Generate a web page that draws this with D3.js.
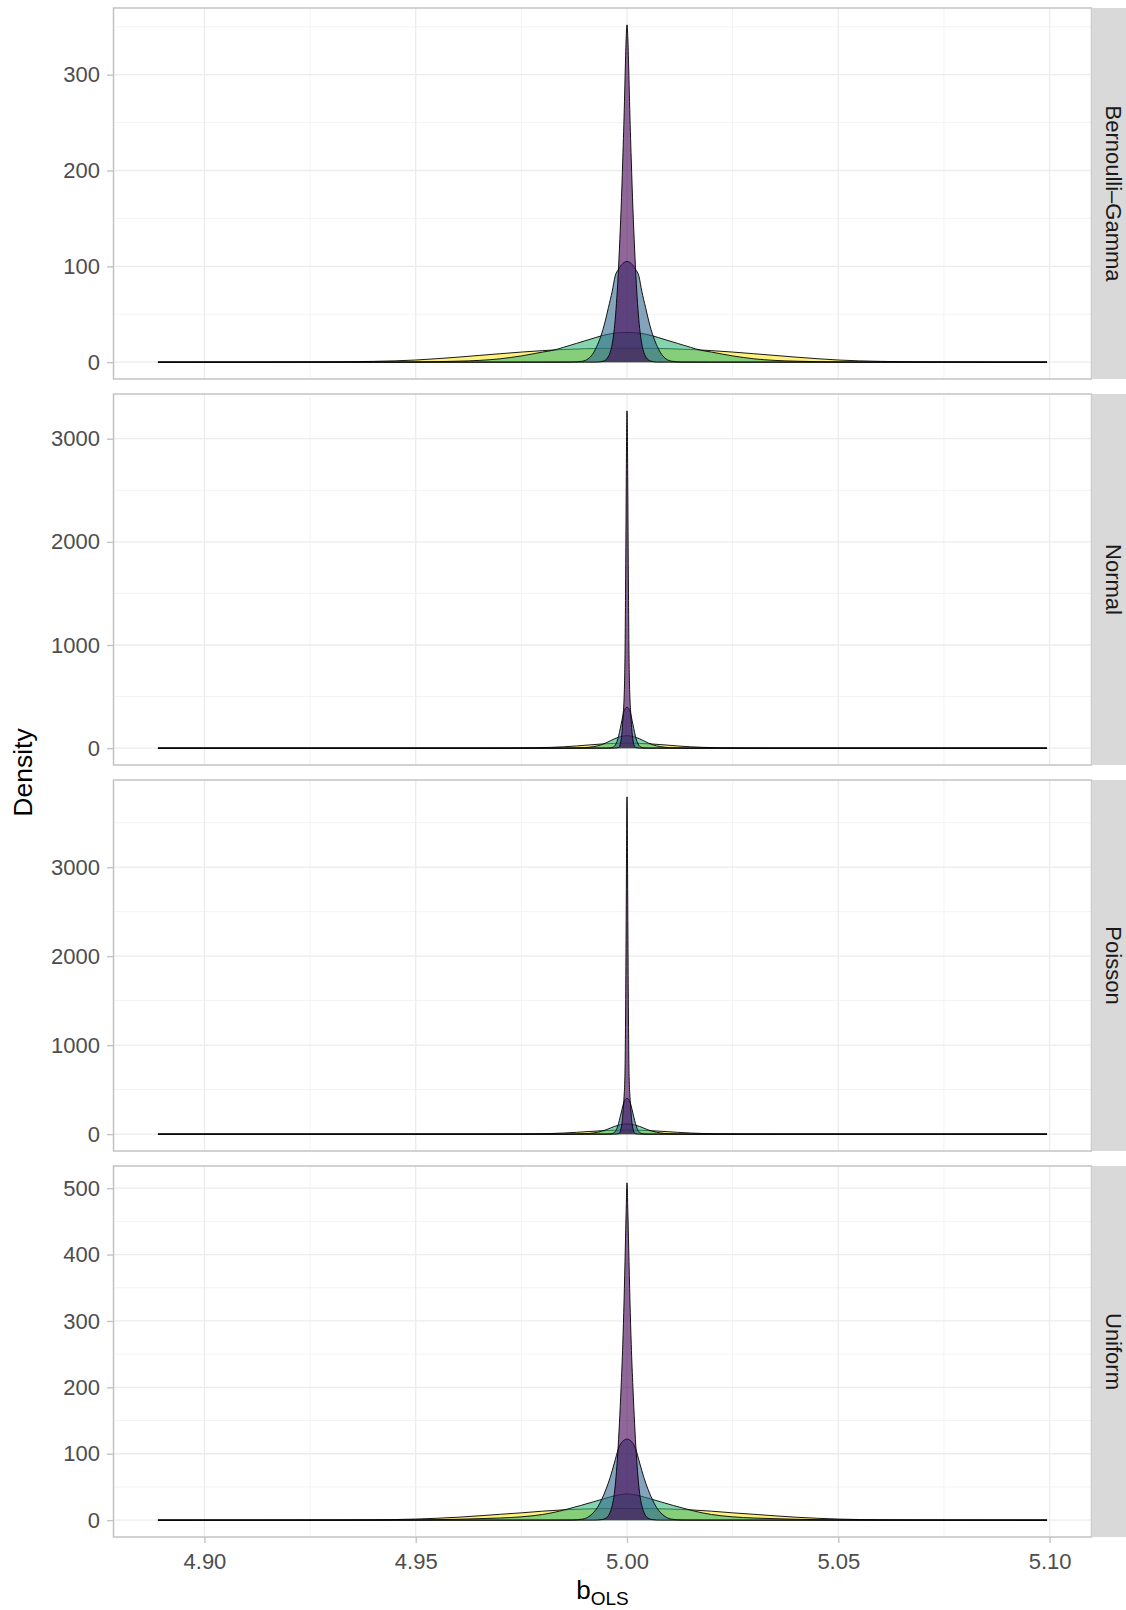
<!DOCTYPE html>
<html>
<head>
<meta charset="utf-8">
<script src="https://cdn.jsdelivr.net/npm/d3@7"></script>
<style>
  body { margin: 0; background: white; }
  text { font-family: "Liberation Sans", Arial, Helvetica, sans-serif; }
</style>
</head>
<body>
<div id="chart"></div>
<script>

// facet labels, top to bottom
var panelNames = ["Bernoulli\u2013Gamma", "Normal", "Poisson", "Uniform"];
// fills, drawn in this order (widest curve first)
var seriesColors = ["#FDE725", "#35B779", "#31688E", "#440154"];

// tick labels
var xTicks = [4.90, 4.95, 5.00, 5.05, 5.10];
var bgTicks = [0, 100, 200, 300];
var normalTicks = [0, 1000, 2000, 3000];
var poissonTicks = [0, 1000, 2000, 3000];
var uniformTicks = [0, 100, 200, 300, 400, 500];

// density curves, [b_OLS, density]
var bgYellow = [[4.889, 0], [4.91, 0.05], [4.93, 0.3], [4.94, 0.8], [4.95, 2.2], [4.955, 3.6], [4.96, 5.2], [4.965, 7.0], [4.97, 8.8], [4.975, 10.5], [4.98, 12.0], [4.985, 13.2], [4.99, 14.0], [4.995, 14.4], [5.0, 14.5], [5.005, 14.4], [5.01, 14.0], [5.015, 13.2], [5.02, 12.0], [5.025, 10.5], [5.03, 8.8], [5.035, 7.0], [5.04, 5.2], [5.045, 3.6], [5.05, 2.2], [5.06, 0.8], [5.07, 0.3], [5.09, 0.05], [5.0994, 0]];
var bgGreen = [[4.889, 0], [4.94, 0.05], [4.95, 0.2], [4.955, 0.5], [4.96, 1.0], [4.965, 1.8], [4.97, 3.5], [4.975, 6.5], [4.98, 10.5], [4.9826, 12.5], [4.985, 15.5], [4.988, 19.5], [4.991, 23.5], [4.994, 27.5], [4.997, 30.2], [5.0, 31.0], [5.003, 30.2], [5.006, 27.5], [5.009, 23.5], [5.012, 19.5], [5.015, 15.5], [5.0174, 12.5], [5.02, 10.5], [5.025, 6.5], [5.03, 3.5], [5.035, 1.8], [5.04, 1.0], [5.045, 0.5], [5.05, 0.2], [5.06, 0.05], [5.0994, 0]];
var bgBlue = [[4.889, 0], [4.98, 0], [4.987, 0.1], [4.9895, 1.0], [4.9908, 3.5], [4.9918, 8], [4.9928, 16], [4.9938, 27], [4.9948, 42], [4.9956, 57], [4.9965, 74], [4.9972, 90], [4.998, 97], [4.999, 103], [5.0, 105], [5.001, 103], [5.002, 97], [5.0028, 90], [5.0035, 74], [5.0044, 57], [5.0052, 42], [5.0062, 27], [5.0072, 16], [5.0082, 8], [5.0092, 3.5], [5.0105, 1.0], [5.013, 0.1], [5.02, 0], [5.0994, 0]];
var bgPurple = [[4.889, 0], [4.99, 0], [4.993, 0.1], [4.9945, 1.2], [4.9953, 4], [4.996, 10], [4.9965, 19], [4.997, 35], [4.9974, 55], [4.9978, 82], [4.9982, 118], [4.9986, 160], [4.999, 212], [4.9994, 272], [4.9996, 308], [4.9998, 338], [5.0, 352], [5.0002, 338], [5.0004, 308], [5.0006, 272], [5.001, 212], [5.0014, 160], [5.0018, 118], [5.0022, 82], [5.0026, 55], [5.003, 35], [5.0035, 19], [5.004, 10], [5.0047, 4], [5.0055, 1.2], [5.007, 0.1], [5.01, 0], [5.0994, 0]];

var nYellow = [[4.889, 0], [4.95, 0], [4.965, 0.3], [4.973, 1.2], [4.978, 3.5], [4.982, 7.5], [4.985, 13], [4.988, 21], [4.991, 31], [4.994, 40], [4.997, 46], [5.0, 48], [5.003, 46], [5.006, 40], [5.009, 31], [5.012, 21], [5.015, 13], [5.018, 7.5], [5.022, 3.5], [5.027, 1.2], [5.035, 0.3], [5.05, 0], [5.0994, 0]];
var nGreen = [[4.889, 0], [4.98, 0], [4.985, 0.3], [4.988, 1.5], [4.99, 5], [4.992, 14], [4.993, 22], [4.994, 34], [4.995, 50], [4.996, 70], [4.997, 90], [4.998, 106], [4.999, 116], [5.0, 120], [5.001, 116], [5.002, 106], [5.003, 90], [5.004, 70], [5.005, 50], [5.006, 34], [5.007, 22], [5.008, 14], [5.01, 5], [5.012, 1.5], [5.015, 0.3], [5.02, 0], [5.0994, 0]];
var nBlue = [[4.889, 0], [4.993, 0], [4.995, 0.5], [4.996, 2], [4.9965, 6], [4.997, 18], [4.9975, 50], [4.998, 115], [4.9984, 190], [4.9988, 270], [4.9992, 345], [4.9996, 385], [5.0, 397], [5.0004, 385], [5.0008, 345], [5.0012, 270], [5.0016, 190], [5.002, 115], [5.0025, 50], [5.003, 18], [5.0035, 6], [5.004, 2], [5.005, 0.5], [5.007, 0], [5.0994, 0]];
var nPurple = [[4.889, 0], [4.995, 0], [4.997, 0.5], [4.998, 6], [4.9983, 25], [4.9986, 80], [4.9989, 200], [4.9991, 330], [4.9993, 480], [4.99945, 700], [4.99955, 1000], [4.99965, 1500], [4.99975, 2100], [4.99984, 2700], [4.99992, 3100], [5.0, 3270], [5.00008, 3100], [5.00016, 2700], [5.00025, 2100], [5.00035, 1500], [5.00045, 1000], [5.00055, 700], [5.0007, 480], [5.0009, 330], [5.0011, 200], [5.0014, 80], [5.0017, 25], [5.002, 6], [5.003, 0.5], [5.005, 0], [5.0994, 0]];

var pYellow = [[4.889, 0], [4.95, 0], [4.965, 0.3], [4.973, 1.1], [4.978, 3.2], [4.982, 7], [4.985, 12.5], [4.988, 20], [4.991, 29.5], [4.994, 38], [4.997, 44], [5.0, 46], [5.003, 44], [5.006, 38], [5.009, 29.5], [5.012, 20], [5.015, 12.5], [5.018, 7], [5.022, 3.2], [5.027, 1.1], [5.035, 0.3], [5.05, 0], [5.0994, 0]];
var pGreen = [[4.889, 0], [4.98, 0], [4.985, 0.3], [4.988, 1.4], [4.99, 4.5], [4.992, 13], [4.993, 21], [4.994, 33], [4.995, 48], [4.996, 67], [4.997, 86], [4.998, 101], [4.999, 111], [5.0, 115], [5.001, 111], [5.002, 101], [5.003, 86], [5.004, 67], [5.005, 48], [5.006, 33], [5.007, 21], [5.008, 13], [5.01, 4.5], [5.012, 1.4], [5.015, 0.3], [5.02, 0], [5.0994, 0]];
var pBlue = [[4.889, 0], [4.993, 0], [4.995, 0.3], [4.996, 2], [4.9965, 6], [4.997, 19], [4.9975, 52], [4.998, 120], [4.9984, 195], [4.9988, 275], [4.9992, 350], [4.9996, 390], [5.0, 403], [5.0004, 390], [5.0008, 350], [5.0012, 275], [5.0016, 195], [5.002, 120], [5.0025, 52], [5.003, 19], [5.0035, 6], [5.004, 2], [5.005, 0.3], [5.007, 0], [5.0994, 0]];
var pPurple = [[4.889, 0], [4.995, 0], [4.997, 0.4], [4.998, 5], [4.9983, 20], [4.9986, 65], [4.9989, 160], [4.9991, 280], [4.9993, 420], [4.9995, 650], [4.9996, 1000], [4.9997, 1600], [4.9998, 2400], [4.99988, 3100], [4.99994, 3600], [5.0, 3790], [5.00006, 3600], [5.00012, 3100], [5.0002, 2400], [5.0003, 1600], [5.0004, 1000], [5.0005, 650], [5.0007, 420], [5.0009, 280], [5.0011, 160], [5.0014, 65], [5.0017, 20], [5.002, 5], [5.003, 0.4], [5.005, 0], [5.0994, 0]];

var unYellow = [[4.889, 0], [4.91, 0.05], [4.93, 0.2], [4.94, 0.5], [4.95, 1.6], [4.955, 2.8], [4.96, 4.4], [4.965, 6.5], [4.97, 8.8], [4.975, 11], [4.98, 13.5], [4.985, 15.5], [4.99, 16.8], [4.995, 17.4], [5.0, 17.6], [5.005, 17.4], [5.01, 16.8], [5.015, 15.5], [5.02, 13.5], [5.025, 11], [5.03, 8.8], [5.035, 6.5], [5.04, 4.4], [5.045, 2.8], [5.05, 1.6], [5.06, 0.5], [5.07, 0.2], [5.09, 0.05], [5.0994, 0]];
var unGreen = [[4.889, 0], [4.94, 0.05], [4.95, 0.3], [4.955, 0.7], [4.96, 1.3], [4.965, 2.2], [4.97, 3.2], [4.975, 5], [4.98, 8.5], [4.984, 13.5], [4.9858, 16.5], [4.989, 22], [4.992, 27.5], [4.9944, 32], [4.997, 36.5], [4.9985, 38.5], [5.0, 39.5], [5.0015, 38.5], [5.003, 36.5], [5.0056, 32], [5.008, 27.5], [5.011, 22], [5.0142, 16.5], [5.016, 13.5], [5.02, 8.5], [5.025, 5], [5.03, 3.2], [5.035, 2.2], [5.04, 1.3], [5.045, 0.7], [5.05, 0.3], [5.06, 0.05], [5.0994, 0]];
var unBlue = [[4.889, 0], [4.98, 0], [4.987, 0.2], [4.9895, 1.5], [4.991, 5.5], [4.992, 11], [4.993, 19], [4.994, 31], [4.995, 46], [4.996, 64], [4.997, 86], [4.998, 108], [4.999, 119], [5.0, 122], [5.001, 119], [5.002, 108], [5.003, 86], [5.004, 64], [5.005, 46], [5.006, 31], [5.007, 19], [5.008, 11], [5.009, 5.5], [5.0105, 1.5], [5.013, 0.2], [5.02, 0], [5.0994, 0]];
var unPurple = [[4.889, 0], [4.992, 0], [4.994, 0.8], [4.995, 3], [4.9958, 9], [4.9965, 22], [4.997, 40], [4.9974, 65], [4.9978, 100], [4.9982, 145], [4.9986, 200], [4.999, 265], [4.9993, 330], [4.9996, 410], [4.9998, 465], [5.0, 508], [5.0002, 465], [5.0004, 410], [5.0007, 330], [5.001, 265], [5.0014, 200], [5.0018, 145], [5.0022, 100], [5.0026, 65], [5.003, 40], [5.0035, 22], [5.0042, 9], [5.005, 3], [5.006, 0.8], [5.008, 0], [5.0994, 0]];

var panels = [
  {name: panelNames[0], ticks: bgTicks, series: [bgYellow, bgGreen, bgBlue, bgPurple]},
  {name: panelNames[1], ticks: normalTicks, series: [nYellow, nGreen, nBlue, nPurple]},
  {name: panelNames[2], ticks: poissonTicks, series: [pYellow, pGreen, pBlue, pPurple]},
  {name: panelNames[3], ticks: uniformTicks, series: [unYellow, unGreen, unBlue, unPurple]}
];

var width = 1126, height = 1610;
var panelLeft = 113.5, panelRight = 1091.5,
    panelTop = 8, panelH = 371, panelGap = 15,
    stripW = 34.5;

var svg = d3.select("#chart").append("svg")
    .attr("width", width)
    .attr("height", height)
    .style("background-color", "white");

// shared x scale, ggplot style 5% expansion around the data
var allPts = d3.merge(panels.map(function(p) { return d3.merge(p.series); }));
var xExt = d3.extent(allPts, function(d) { return d[0]; });
var xPad = (xExt[1] - xExt[0]) * 0.05;
var x = d3.scaleLinear()
    .domain([xExt[0] - xPad, xExt[1] + xPad])
    .range([panelLeft, panelRight]);

var xMinor = [];
for (var k = 0; k <= xTicks.length; k++) {
  var v = xTicks[0] + (k - 0.5) * 0.05;
  if (v > x.domain()[0] && v < x.domain()[1]) xMinor.push(v);
}

panels.forEach(function(p, i) {
  var top = panelTop + i * (panelH + panelGap),
      bottom = top + panelH;

  var yMax = d3.max(p.series, function(s) { return d3.max(s, function(d) { return d[1]; }); });
  var y = d3.scaleLinear()
      .domain([-0.05 * yMax, 1.05 * yMax])
      .range([bottom, top]);

  var step = p.ticks[1] - p.ticks[0];
  var yMinor = [];
  for (var j = 0; j <= p.ticks.length; j++) {
    var m = p.ticks[0] + (j - 0.5) * step;
    if (m > y.domain()[0] && m < y.domain()[1]) yMinor.push(m);
  }

  var g = svg.append("g");

  // grid: minor then major
  g.selectAll(".ymin").data(yMinor).enter().append("line")
      .attr("x1", panelLeft).attr("x2", panelRight)
      .attr("y1", function(d) { return y(d); }).attr("y2", function(d) { return y(d); })
      .attr("stroke", "#f3f3f3").attr("stroke-width", 1);
  g.selectAll(".xmin").data(xMinor).enter().append("line")
      .attr("x1", function(d) { return x(d); }).attr("x2", function(d) { return x(d); })
      .attr("y1", top).attr("y2", bottom)
      .attr("stroke", "#f3f3f3").attr("stroke-width", 1);
  g.selectAll(".ymaj").data(p.ticks).enter().append("line")
      .attr("x1", panelLeft).attr("x2", panelRight)
      .attr("y1", function(d) { return y(d); }).attr("y2", function(d) { return y(d); })
      .attr("stroke", "#ececec").attr("stroke-width", 1.3);
  g.selectAll(".xmaj").data(xTicks).enter().append("line")
      .attr("x1", function(d) { return x(d); }).attr("x2", function(d) { return x(d); })
      .attr("y1", top).attr("y2", bottom)
      .attr("stroke", "#ececec").attr("stroke-width", 1.3);

  var area = d3.area()
      .x(function(d) { return x(d[0]); })
      .y0(y(0))
      .y1(function(d) { return y(d[1]); })
      .curve(d3.curveMonotoneX);
  var line = d3.line()
      .x(function(d) { return x(d[0]); })
      .y(function(d) { return y(d[1]); })
      .curve(d3.curveMonotoneX);

  // each group: fill then its upper outline
  p.series.forEach(function(s, si) {
    g.append("path")
        .datum(s)
        .attr("d", area)
        .attr("fill", seriesColors[si])
        .attr("fill-opacity", 0.6);
    g.append("path")
        .datum(s)
        .attr("d", line)
        .attr("fill", "none")
        .attr("stroke", "black")
        .attr("stroke-width", 0.9);
  });

  // panel border
  g.append("rect")
      .attr("x", panelLeft).attr("y", top)
      .attr("width", panelRight - panelLeft).attr("height", panelH)
      .attr("fill", "none")
      .attr("stroke", "#bfbfbf")
      .attr("stroke-width", 1.4);

  // y axis
  var yAxis = g.append("g")
      .attr("transform", "translate(" + panelLeft + ",0)")
      .call(d3.axisLeft(y).tickValues(p.ticks).tickFormat(d3.format("d")).tickSize(6.5).tickPadding(7));
  yAxis.select(".domain").remove();
  yAxis.selectAll("line").attr("stroke", "#c4c4c4").attr("stroke-width", 1.4);
  yAxis.selectAll("text")
      .attr("fill", "#4d4d4d")
      .style("font-size", "22px")
      .style("font-family", "'Liberation Sans', Arial, sans-serif");

  // strip on the right
  g.append("rect")
      .attr("x", panelRight).attr("y", top)
      .attr("width", stripW).attr("height", panelH)
      .attr("fill", "#d9d9d9");
  g.append("text")
      .attr("transform", "translate(1105.5," + (top + panelH / 2) + ") rotate(90)")
      .attr("text-anchor", "middle")
      .attr("fill", "#1a1a1a")
      .style("font-size", "22px")
      .text(p.name);

  // x axis under the last panel only
  if (i === panels.length - 1) {
    var xAxis = g.append("g")
        .attr("transform", "translate(0," + bottom + ")")
        .call(d3.axisBottom(x).tickValues(xTicks).tickFormat(d3.format(".2f")).tickSize(6).tickPadding(10));
    xAxis.select(".domain").remove();
    xAxis.selectAll("line").attr("stroke", "#c4c4c4").attr("stroke-width", 1.4);
    xAxis.selectAll("text")
        .attr("fill", "#4d4d4d")
        .style("font-size", "22px")
        .style("font-family", "'Liberation Sans', Arial, sans-serif");
  }
});

// axis titles
svg.append("text")
    .attr("transform", "translate(31.5," + (panelTop + (4 * panelH + 3 * panelGap) / 2) + ") rotate(-90)")
    .attr("text-anchor", "middle")
    .attr("fill", "black")
    .style("font-size", "26.5px")
    .text("Density");

var xTitle = svg.append("text")
    .attr("x", (panelLeft + panelRight) / 2)
    .attr("y", 1599)
    .attr("text-anchor", "middle")
    .attr("fill", "black")
    .style("font-size", "26px");
xTitle.append("tspan").text("b");
xTitle.append("tspan").attr("dy", 6).style("font-size", "19px").text("OLS");

</script>
</body>
</html>
